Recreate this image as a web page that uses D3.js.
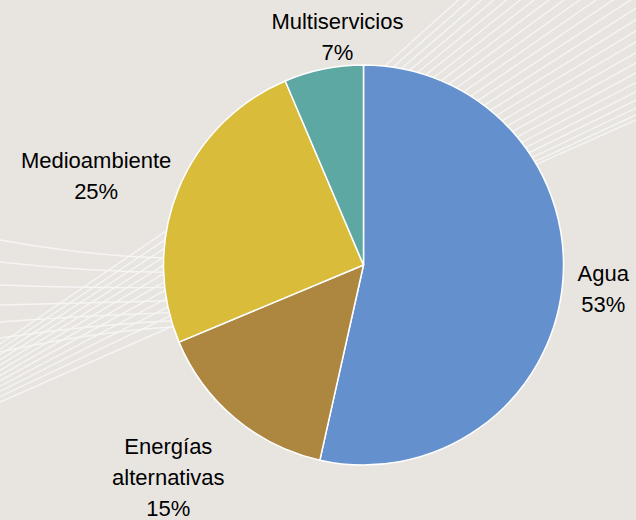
<!DOCTYPE html>
<html>
<head>
<meta charset="utf-8">
<script src="https://cdn.jsdelivr.net/npm/d3@7"></script>
<style>
  html, body { margin: 0; padding: 0; background: #e8e5e1; }
  svg { display: block; }
</style>
</head>
<body>
<svg id="chart" width="636" height="520"></svg>
<script>
// ---- data ----
const categories = ["Agua", "Energías alternativas", "Medioambiente", "Multiservicios"];
const values = [53.5, 15.2, 24.9, 6.4];
const pctLabels = ["53%", "15%", "25%", "7%"];
const labelLines = [["Agua"], ["Energías", "alternativas"], ["Medioambiente"], ["Multiservicios"]];
const colors = ["#6491cd", "#ad8640", "#d8bc3a", "#5ea8a4"];

// ---- layout ----
const W = 636, H = 520;
const cx = 363.5, cy = 265, R = 200;
const svg = d3.select("#chart");

svg.append("rect").attr("width", W).attr("height", H).attr("fill", "#e8e5e1");

// decorative background lines
const deco = svg.append("g").attr("fill", "none").attr("stroke", "#f7f6f4")
  .attr("stroke-opacity", 0.95).attr("stroke-width", 1.4);
const N1 = 26;
for (let i = 0; i < N1; i++) {
  const t = i / (N1 - 1);
  const yR = 120 - 280 * Math.pow(t, 1.25);
  const s = Math.tan((24 + 18 * t) * Math.PI / 180);
  deco.append("line").attr("x1", 360).attr("y1", yR + s * (636 - 360))
    .attr("x2", 636).attr("y2", yR);
}
const famA = [[240, 258], [262, 272], [285, 287], [305, 300], [322, 312], [338, 320], [352, 326]];
famA.forEach(([y0, y1]) => {
  deco.append("path").attr("d", `M0,${y0} Q110,${y1 + 2} 200,${y1}`);
});
const N2 = 12;
for (let i = 0; i < N2; i++) {
  const t = i / (N2 - 1);
  const yL = 402 - 58 * t;
  const yRr = 325 - 100 * Math.pow(t, 0.9);
  deco.append("line").attr("x1", 0).attr("y1", yL).attr("x2", 200).attr("y2", yL + (yRr - yL) * 200 / 175);
}

// pie
const pie = d3.pie().sort(null).value(d => d)(values);
const arc = d3.arc().innerRadius(0).outerRadius(R);
const g = svg.append("g").attr("transform", `translate(${cx},${cy})`);
g.selectAll("path").data(pie).join("path")
  .attr("d", arc)
  .attr("fill", (d, i) => colors[i])
  .attr("stroke", "#ffffff")
  .attr("stroke-width", 1.5)
  .attr("stroke-linejoin", "round");

// labels (outside end, nudged like the original)
const labelAdjust = [{da: -0.6, r: 241}, {da: 2.7, r: 288}, {da: -3.6, r: 282}, {da: 5, r: 230}];
const fontSize = 22, lineH = 31, capH = 15.5;
pie.forEach((d, i) => {
  const mid = (d.startAngle + d.endAngle) / 2 + labelAdjust[i].da * Math.PI / 180;
  const [px, py] = d3.pointRadial(mid, labelAdjust[i].r);
  const lines = labelLines[i].concat([pctLabels[i]]);
  const blockH = (lines.length - 1) * lineH + capH;
  const firstBase = py - blockH / 2 + capH;
  const t = g.append("text")
    .attr("text-anchor", "middle")
    .attr("font-family", "'Liberation Sans', Arial, sans-serif")
    .attr("font-size", fontSize)
    .attr("fill", "#000");
  lines.forEach((ln, k) => {
    t.append("tspan").attr("x", px).attr("y", firstBase + k * lineH).text(ln);
  });
});
</script>
</body>
</html>
